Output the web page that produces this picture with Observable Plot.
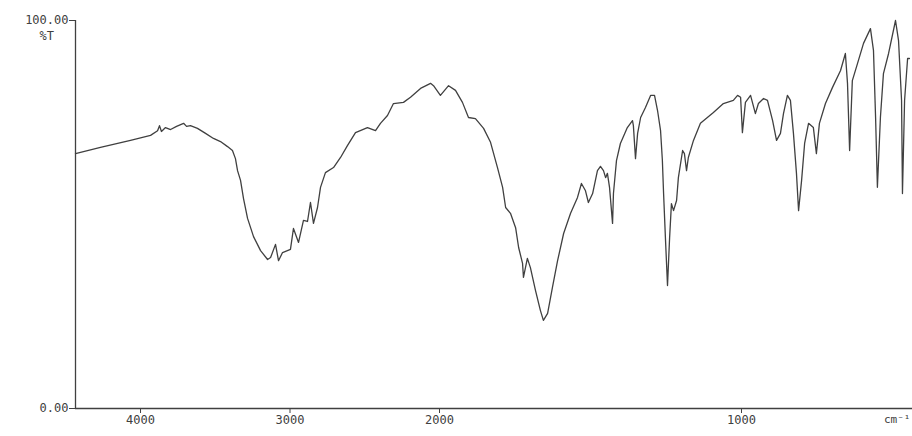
<!DOCTYPE html>
<html>
<head>
<meta charset="utf-8">
<script src="https://cdn.jsdelivr.net/npm/d3@7"></script>
<script src="https://cdn.jsdelivr.net/npm/@observablehq/plot@0.6"></script>
<style>
  html, body { margin: 0; padding: 0; background: #fff; }
  #chart svg { display: block; }
</style>
</head>
<body>
<div id="chart"></div>
<script>
// IR spectrum: wavenumber (cm-1) and transmittance (%T)
const wavenumber = [
  4435, 4268, 4067, 3933, 3886, 3873, 3860, 3833, 3799, 3759, 3712, 3692, 3666, 3619, 3565, 3512, 3465, 3418, 3385, 3365,
  3351, 3331, 3311, 3284, 3244, 3197, 3150, 3130, 3097, 3077, 3050, 2997, 2977, 2943, 2910, 2883, 2863, 2843, 2816, 2796,
  2763, 2709, 2662, 2615, 2562, 2482, 2428, 2395, 2348, 2308, 2241, 2194, 2127, 2060, 2040,
  1997, 1970, 1947, 1924, 1904, 1881, 1854, 1831, 1808, 1791, 1781, 1765, 1748, 1738, 1725, 1722, 1709, 1699, 1682, 1666,
  1656, 1642, 1626, 1609, 1589, 1566, 1543, 1530, 1517, 1507, 1493, 1477, 1467, 1457, 1450, 1444, 1437, 1427, 1424, 1414,
  1401, 1378, 1361, 1358, 1351, 1344, 1334, 1318, 1301, 1288, 1278, 1268, 1262, 1258, 1252, 1245, 1238, 1232, 1225, 1215,
  1209, 1195, 1189, 1182, 1176, 1159, 1136, 1113, 1093, 1060, 1027, 1013, 1003, 997, 987, 970, 954, 944, 927, 914,
  897, 884, 871, 861, 848, 838, 828, 818, 811, 801, 791, 778, 762, 752, 742, 722, 699, 672, 656, 649,
  642, 633, 616, 596, 573, 563, 556, 550, 540, 530, 513, 490, 480, 470, 467, 460, 450, 444
];
const transmittance = [
  65.7, 67.3, 69.1, 70.4, 71.6, 72.9, 71.4, 72.4, 71.9, 72.7, 73.5, 72.7, 72.9, 72.2, 70.9, 69.6, 68.8, 67.5, 66.5, 64.4,
  61.3, 58.8, 54.1, 49.0, 44.3, 40.7, 38.4, 38.9, 42.3, 38.1, 40.2, 41.0, 46.4, 42.8, 48.5, 48.2, 53.1, 47.7, 51.8, 57.0,
  60.8, 62.1, 64.7, 67.8, 71.1, 72.4, 71.6, 73.5, 75.5, 78.6, 78.9, 80.2, 82.5, 83.8, 83.2,
  80.7, 83.2, 82.0, 78.9, 75.0, 74.7, 72.2, 68.6, 62.1, 57.0, 51.8, 50.3, 46.6, 41.5, 37.4, 33.8, 38.7, 36.3, 30.4, 25.3,
  22.7, 24.5, 31.2, 38.1, 45.1, 50.3, 54.4, 58.0, 56.2, 53.1, 55.4, 61.3, 62.4, 61.3, 59.5, 60.6, 57.0, 47.7, 55.4, 63.9,
  68.3, 72.4, 74.2, 72.9, 64.4, 70.9, 75.0, 77.6, 80.7, 80.7, 76.8, 71.6, 63.9, 55.4, 44.1, 31.7, 44.1, 52.8, 51.0, 53.6,
  59.5, 66.5, 65.7, 61.3, 64.7, 69.1, 73.5, 75.0, 76.3, 78.6, 79.4, 80.7, 80.2, 71.1, 78.9, 80.7, 76.0, 78.6, 79.9, 79.4,
  74.2, 69.1, 70.9, 76.0, 80.7, 79.4, 70.9, 60.6, 51.0, 58.8, 68.3, 73.5, 72.4, 65.7, 73.5, 78.6, 82.7, 87.1, 91.5, 83.8,
  66.5, 84.5, 88.9, 94.1, 97.9, 92.3, 75.0, 57.0, 75.0, 86.3, 91.5, 100.0, 94.8, 79.4, 55.4, 79.4, 90.2, 90.2
];
const xTicks = [4000, 3000, 2000, 1000];
const yTicks = [0, 100];
const yLabel = "%T";
const xUnit = "cm\u207B\u00B9";

const spectrum = wavenumber.map((w, i) => ({w, t: transmittance[i]}));
const font = "'DejaVu Sans Mono', monospace";
const ink = "#404040";

const chart = Plot.plot({
  width: 912,
  height: 436,
  marginLeft: 75,
  marginRight: 0,
  marginTop: 20,
  marginBottom: 28,
  style: {background: "#fff", fontFamily: font, fontSize: "12px", color: ink},
  x: {type: "linear", domain: [4435, 2000, 400], range: [75, 439, 922.2], axis: null},
  y: {domain: [0, 100], axis: null},
  marks: [
    Plot.ruleX([4435], {stroke: ink, strokeWidth: 1.3}),
    Plot.ruleY([0], {stroke: ink, strokeWidth: 1.6}),
    Plot.axisX({ticks: xTicks, tickSize: 5, tickPadding: 2, tickFormat: d => String(d), stroke: ink, fill: ink, label: null, fontSize: 12}),
    Plot.axisY({ticks: yTicks, tickSize: 6, tickPadding: 1, tickFormat: d => d.toFixed(2), stroke: ink, fill: ink, label: null, fontSize: 12}),
    Plot.text([yLabel], {frameAnchor: "top-left", dx: -36, dy: 11, text: d => d, fill: ink, fontSize: 12}),
    Plot.text([xUnit], {frameAnchor: "bottom-right", dx: -2, dy: 14, text: d => d, textAnchor: "end", fill: ink, fontSize: 11}),
    Plot.line(spectrum, {x: "w", y: "t", stroke: ink, strokeWidth: 1.3, strokeLinejoin: "round", curve: "linear"})
  ]
});
document.getElementById("chart").appendChild(chart);
</script>
</body>
</html>
